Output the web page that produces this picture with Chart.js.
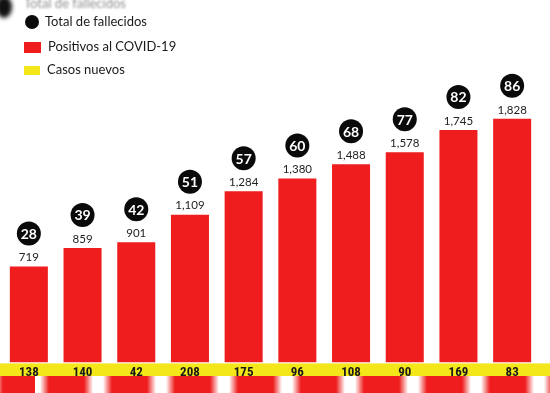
<!DOCTYPE html>
<html>
<head>
<meta charset="utf-8">
<script src="https://cdn.jsdelivr.net/npm/chart.js@4/dist/chart.umd.min.js"></script>
<style>
  html, body { margin: 0; padding: 0; background: #fff; }
  #wrap { position: relative; width: 550px; height: 393px; overflow: hidden; background: #fff; }
  #c { position: absolute; left: 0; top: 0; }
  .blurtitle { position: absolute; left: 24px; top: -5px; font: 13px Lato, sans-serif; color: #909090; filter: blur(1.3px); }
  .blob { position: absolute; left: -4px; top: -4px; width: 16px; height: 22px; background: #111; border-radius: 50%; filter: blur(2px); }
  .legend { position: absolute; left: 0; top: 0; font: 13px Lato, "Open Sans", sans-serif; color: #1a1a1a; }
  .legend .row { position: absolute; white-space: nowrap; }
  .legend .sw { position: absolute; }
  .strip { position: absolute; left: 0; top: 376px; width: 550px; height: 17px;
    background: repeating-linear-gradient(90deg, #fff 0px, #fff 5px, #ef1d1d 14px, #ef1d1d 49px, #fff 58px, #fff 63px);
    background-position: 35px 0; filter: blur(0.6px); }
</style>
</head>
<body>
<div id="wrap">
  <canvas id="c" width="550" height="393"></canvas>
  <div class="blob"></div>
  <div class="blurtitle">Total de fallecidos</div>
  <div class="legend">
    <div class="sw" style="left:25px;top:15px;width:14px;height:14px;border-radius:50%;background:#0a0a0a"></div>
    <div class="row" style="left:45px;top:13px">Total de fallecidos</div>
    <div class="sw" style="left:24px;top:42px;width:17px;height:11px;background:#ef1d1d"></div>
    <div class="row" style="left:48px;top:38px">Positivos al COVID-19</div>
    <div class="sw" style="left:24px;top:66px;width:16px;height:9px;background:#f3e619"></div>
    <div class="row" style="left:47px;top:61px">Casos nuevos</div>
  </div>
  <div class="strip"></div>
</div>
<script>
const positivos = [719, 859, 901, 1109, 1284, 1380, 1488, 1578, 1745, 1828];
const fallecidos = [28, 39, 42, 51, 57, 60, 68, 77, 82, 86];
const casosNuevos = [138, 140, 42, 208, 175, 96, 108, 90, 169, 83];

const RED = '#ef1d1d';
const YELLOW = '#f3e619';

const fmt = v => v.toLocaleString('en-US');

const bandPlugin = {
  id: 'band',
  beforeDraw(chart) {
    const { ctx, chartArea } = chart;
    ctx.save();
    ctx.fillStyle = YELLOW;
    ctx.fillRect(0, chartArea.bottom + 1, chart.width, 15);
    ctx.restore();
  }
};

const labelsPlugin = {
  id: 'labels',
  afterDatasetsDraw(chart) {
    const { ctx } = chart;
    const meta = chart.getDatasetMeta(0);
    ctx.save();
    meta.data.forEach((bar, i) => {
      const x = bar.x, top = bar.y;
      ctx.fillStyle = '#222';
      ctx.font = '11.5px Lato, sans-serif';
      ctx.textAlign = 'center';
      ctx.textBaseline = 'middle';
      ctx.fillText(fmt(positivos[i]), x, top - 9);
      const cy = top - 33;
      ctx.beginPath();
      ctx.arc(x, cy, 12, 0, Math.PI * 2);
      ctx.fillStyle = '#0a0a0a';
      ctx.fill();
      ctx.fillStyle = '#fff';
      ctx.font = 'bold 14px Lato, sans-serif';
      ctx.fillText(String(fallecidos[i]), x, cy + 1);
    });
    ctx.restore();
  }
};

new Chart(document.getElementById('c'), {
  type: 'bar',
  data: {
    labels: casosNuevos.map(String),
    datasets: [{
      label: 'Positivos al COVID-19',
      data: positivos,
      backgroundColor: RED,
      borderWidth: 0,
      categoryPercentage: 1,
      barPercentage: 0.708
    }]
  },
  options: {
    responsive: false,
    animation: false,
    devicePixelRatio: 1,
    layout: { padding: { left: 2, right: 11, top: 0, bottom: 9 } },
    plugins: { legend: { display: false }, tooltip: { enabled: false } },
    scales: {
      x: {
        grid: { display: false, drawTicks: false },
        border: { display: false },
        ticks: {
          padding: 3,
          color: '#1a1a1a',
          font: { family: "'Liberation Sans Narrow', 'Roboto Condensed', Roboto, sans-serif", weight: 'bold', size: 13 },
          maxRotation: 0,
          autoSkip: false
        }
      },
      y: {
        display: false,
        min: 0,
        max: 2720
      }
    }
  },
  plugins: [bandPlugin, labelsPlugin]
});
</script>
</body>
</html>
